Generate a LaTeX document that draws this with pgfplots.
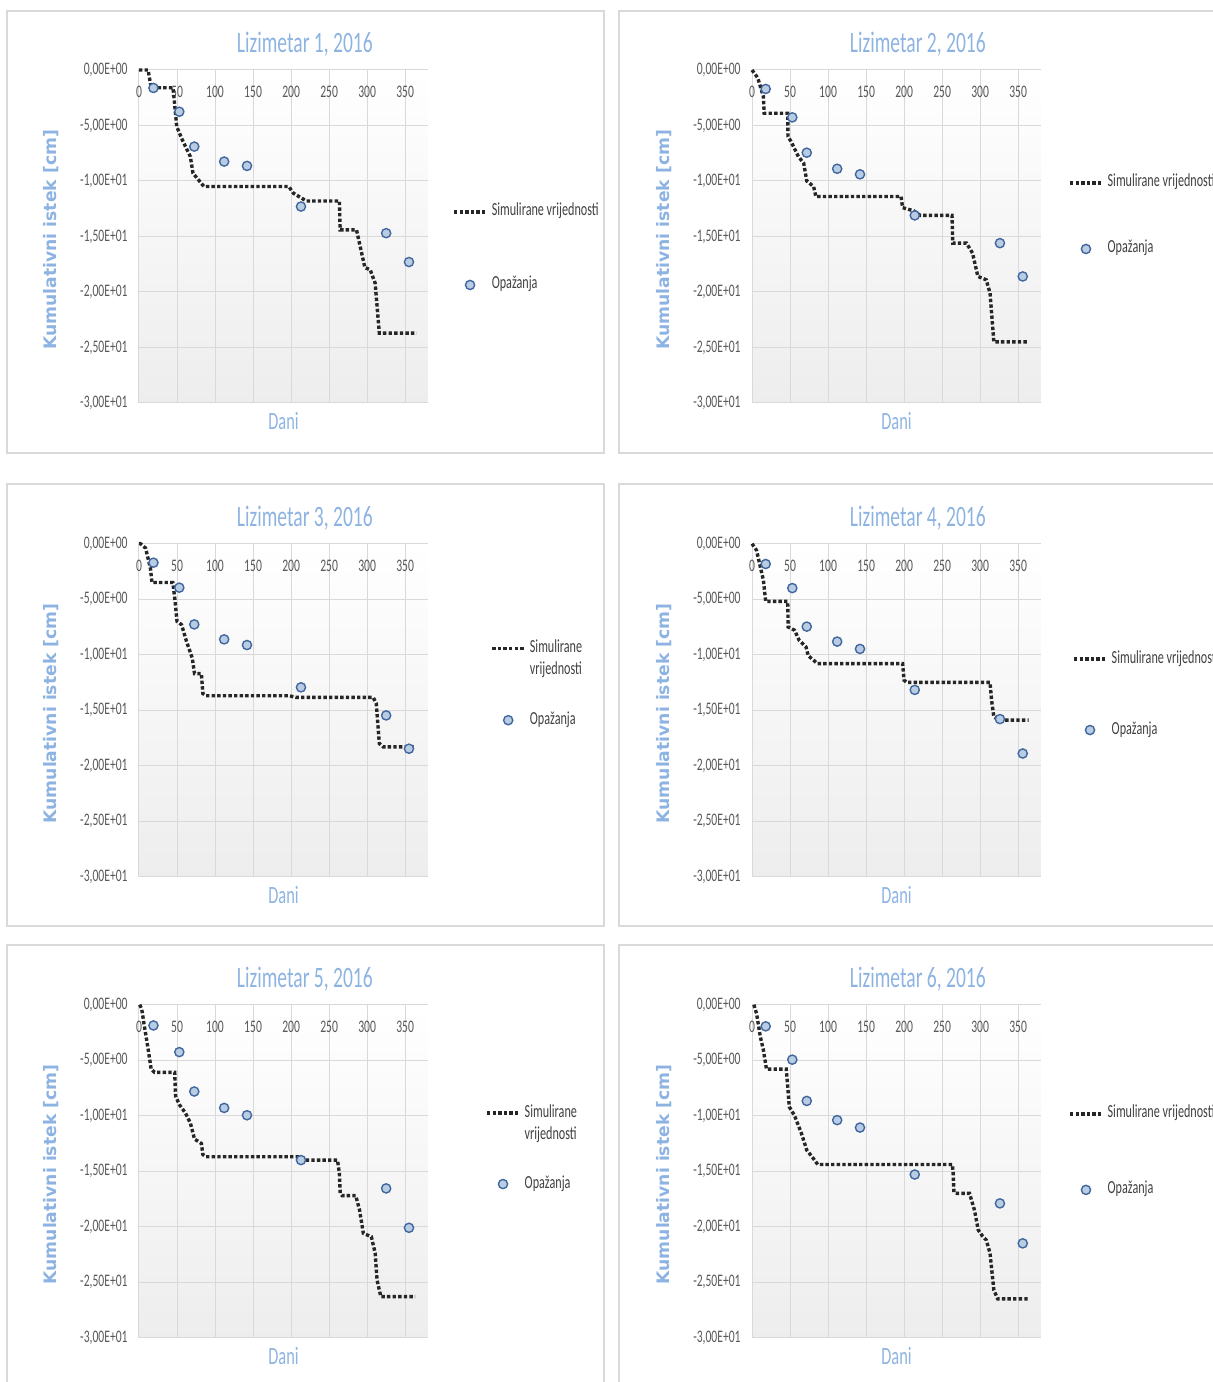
\documentclass[border=0pt]{standalone}
\usepackage{fontspec}
\setmainfont{Carlito}[FakeStretch=0.66]
\newfontfamily\ylabfont{DejaVu Sans}
\usepackage{pgfplots}
\pgfplotsset{compat=1.18}

\definecolor{titleblue}{RGB}{141,179,226}
\definecolor{gridgray}{RGB}{217,217,217}
\definecolor{panelgray}{RGB}{217,217,217}
\definecolor{ticktext}{RGB}{89,89,89}
\definecolor{legtext}{RGB}{64,64,64}
\definecolor{simcol}{RGB}{38,38,38}
\definecolor{obsfill}{RGB}{184,204,228}
\definecolor{obsedge}{RGB}{65,103,158}

\pgfplotsset{
  lizi/.style={
    scale only axis, width=144.5pt, height=166.5pt, anchor=south west,
    xmin=0, xmax=380, ymin=-30, ymax=0, clip=false,
    xtick={0,50,...,350}, xticklabels={0,50,100,150,200,250,300,350},
    ytick={-30,-25,...,0},
    yticklabels={{-3,00E+01},{-2,50E+01},{-2,00E+01},{-1,50E+01},{-1,00E+01},{-5,00E+00},{0,00E+00}},
    xticklabel pos=upper,
    xticklabel style={anchor=center, inner sep=0pt, yshift=-11pt,
      font=\fontsize{8.8}{10}\selectfont, text=ticktext},
    yticklabel style={anchor=east, inner sep=0pt, xshift=-5.5pt,
      font=\fontsize{8.8}{10}\selectfont, text=ticktext},
    major tick length=0pt,
    axis line style={draw=none},
    grid=major, major grid style={gridgray, line width=0.5pt},
    axis background/.style={shade, top color=white, bottom color=black!7},
    title style={at={(axis description cs:0.574,1.040)}, anchor=center,
      font=\fontsize{14.8}{16}\selectfont, text=titleblue},
    xlabel={Dani},
    xlabel style={at={(axis description cs:0.5,-0.054)}, anchor=center,
      font=\fontsize{12.4}{14}\selectfont, text=titleblue},
    ylabel={Kumulativni istek [cm]},
    ylabel style={at={(axis description cs:-0.303,0.49)}, anchor=center,
      font=\ylabfont\bfseries\fontsize{8.6}{10}\selectfont, text=titleblue},
    legend image code/.code={\draw[mark repeat=2,mark phase=2,##1]
      plot coordinates {(0pt,0pt) (8pt,0pt) (16pt,0pt)};},
    legend style={draw=none, fill=none, anchor=west, inner sep=0pt, column sep=2pt,
      font=\fontsize{9.2}{11}\selectfont, text=legtext,
      nodes={inner sep=0pt, text height=5pt, text depth=1pt}},
    legend cell align=left,
  },
  sim/.style={simcol, line width=1.7pt, dash pattern=on 1.7pt off 1.1pt, no markers},
  obs/.style={only marks, mark=*, mark size=2.3pt,
    mark options={fill=obsfill, draw=obsedge, line width=0.7pt}},
}

\begin{document}
\begin{tikzpicture}
\useasboundingbox (0,0) rectangle (606.5pt,691pt);

% panel frames
\draw[panelgray, line width=0.6pt] (3.5pt,464.5pt) rectangle (302pt,685.5pt);
\draw[panelgray, line width=0.6pt] (309.5pt,464.5pt) rectangle (620pt,685.5pt);
\draw[panelgray, line width=0.6pt] (3.5pt,228pt) rectangle (302pt,449pt);
\draw[panelgray, line width=0.6pt] (309.5pt,228pt) rectangle (620pt,449pt);
\draw[panelgray, line width=0.6pt] (3.5pt,-5pt) rectangle (302pt,218.5pt);
\draw[panelgray, line width=0.6pt] (309.5pt,-5pt) rectangle (620pt,218.5pt);

% Lizimetar 1
\begin{axis}[lizi, at={(69.5pt,489.5pt)}, title={Lizimetar 1, 2016},
  legend style={at={(axis description cs:1.083,0.464)}, row sep=30.5pt}]
\addplot[sim] coordinates {(0,0) (12,0) (16,-1.6) (44.5,-1.6) (45.5,-2.1) (49.6,-5.1)
  (57,-6.3) (67.5,-7.8) (71,-9.3) (83,-10.3) (85.5,-10.5) (197,-10.5) (203,-11.1)
  (220,-11.8) (263.5,-11.8) (264.5,-14.4) (286,-14.4) (297,-17.8) (304,-18.0)
  (310.5,-19.2) (316,-23.7) (365,-23.7)};
\addplot[obs] coordinates {(19,-1.62) (53,-3.76) (72.7,-6.9) (112,-8.25) (142,-8.64)
  (213,-12.3) (325,-14.7) (355,-17.3)};
\legend{Simulirane vrijednosti, Opažanja}
\end{axis}

% Lizimetar 2
\begin{axis}[lizi, at={(376pt,489.5pt)}, title={Lizimetar 2, 2016},
  legend style={at={(axis description cs:1.093,0.5616)}, row sep=27pt}]
\addplot[sim] coordinates {(0,0) (7.6,-0.72) (15,-2.4) (16,-3.9) (47,-3.9) (47.3,-6.0)
  (51,-6.4) (61,-7.8) (68,-8.4) (72,-10.0) (81,-10.5) (84,-11.4) (196,-11.4)
  (198,-12.4) (213,-12.7) (221,-13.1) (263,-13.1) (264,-15.6) (282,-15.6) (290,-16.5)
  (297,-18.6) (308,-18.9) (313,-20.1) (318,-24.5) (364,-24.5)};
\addplot[obs] coordinates {(18,-1.71) (53,-4.27) (72,-7.45) (112,-8.9) (142,-9.4)
  (214,-13.1) (326,-15.6) (356,-18.6)};
\legend{Simulirane vrijednosti, Opažanja}
\end{axis}

% Lizimetar 3
\begin{axis}[lizi, at={(69.5pt,252.65pt)}, title={Lizimetar 3, 2016},
  legend style={at={(axis description cs:1.215,0.578)}, row sep=30pt}]
\addplot[sim] coordinates {(0,0) (2,0) (8.7,-0.4) (15,-2.2) (17,-3.5) (44.5,-3.5)
  (47,-4.9) (50,-7.0) (56,-7.3) (62,-8.7) (70,-10.3) (73,-11.7) (82,-11.7) (84,-13.5)
  (88,-13.7) (198,-13.7) (206,-13.85) (308,-13.85) (312,-14.4) (316,-18.0) (321,-18.3)
  (363,-18.3)};
\addlegendentry{\parbox[t]{40pt}{\raggedright Simulirane\newline vrijednosti}}
\addplot[obs] coordinates {(19,-1.71) (53,-3.96) (72.7,-7.27) (112,-8.62) (142,-9.13)
  (213,-12.94) (325,-15.47) (355,-18.47)};
\addlegendentry{Opažanja}
\end{axis}

% Lizimetar 4
\begin{axis}[lizi, at={(376pt,252.65pt)}, title={Lizimetar 4, 2016},
  legend style={at={(axis description cs:1.107,0.547)}, row sep=29.5pt}]
\addplot[sim] coordinates {(0,0) (6,-0.6) (11,-2.1) (15,-3.3) (18,-5.2) (47,-5.2)
  (47.5,-7.5) (56,-7.8) (62,-8.7) (71,-9.3) (74,-10.1) (81,-10.5) (86,-10.8)
  (198,-10.8) (200,-12.3) (203.5,-12.5) (313,-12.5) (315,-14.1) (318,-15.6)
  (325.5,-15.9) (363.7,-15.9)};
\addplot[obs] coordinates {(18,-1.83) (53,-4.0) (72,-7.47) (112,-8.82) (142,-9.48)
  (214,-13.17) (326,-15.8) (356,-18.9)};
\legend{Simulirane vrijednosti, Opažanja}
\end{axis}

% Lizimetar 5
\begin{axis}[lizi, at={(69.5pt,22.15pt)}, title={Lizimetar 5, 2016},
  legend style={at={(axis description cs:1.197,0.568)}, row sep=29.5pt}]
\addplot[sim] coordinates {(1,0) (3.6,-0.4) (7,-1.9) (12,-4.0) (16,-5.8) (20.5,-6.1)
  (47,-6.1) (48,-8.2) (53,-9.0) (61,-9.75) (67.5,-10.65) (73,-12.1) (82,-12.5)
  (84,-13.5) (88,-13.7) (213,-13.7) (218.5,-14.0) (261,-14.0) (263.5,-15.2)
  (264.6,-17.0) (267,-17.2) (285,-17.2) (290,-18.5) (295,-20.6) (305.5,-20.9)
  (310.6,-22.4) (313,-24.8) (318,-26.3) (363,-26.3)};
\addlegendentry{\parbox[t]{40pt}{\raggedright Simulirane\newline vrijednosti}}
\addplot[obs] coordinates {(19,-1.87) (53,-4.27) (72.7,-7.82) (112,-9.3) (142,-9.96)
  (213,-14.0) (325,-16.55) (355,-20.1)};
\addlegendentry{Opažanja}
\end{axis}

% Lizimetar 6
\begin{axis}[lizi, at={(376pt,22.15pt)}, title={Lizimetar 6, 2016},
  legend style={at={(axis description cs:1.093,0.558)}, row sep=32pt}]
\addplot[sim] coordinates {(2.5,0) (6,-0.8) (11,-2.9) (15,-4.1) (19,-5.8) (45,-5.8)
  (47,-7.4) (49,-9.2) (56,-10.0) (65,-11.6) (72,-13.1) (79,-13.7) (86.5,-14.4)
  (263.5,-14.4) (264.5,-15.2) (265.5,-16.9) (269.6,-17.0) (286,-17.0) (292.5,-18.5)
  (297.5,-20.3) (302.6,-20.8) (308,-21.2) (313,-22.4) (318,-25.7) (323,-26.5)
  (363.7,-26.5)};
\addplot[obs] coordinates {(18,-1.95) (53,-4.95) (72,-8.67) (112,-10.4) (142,-11.07)
  (214,-15.3) (326,-17.9) (356,-21.5)};
\legend{Simulirane vrijednosti, Opažanja}
\end{axis}
\end{tikzpicture}
\end{document}
